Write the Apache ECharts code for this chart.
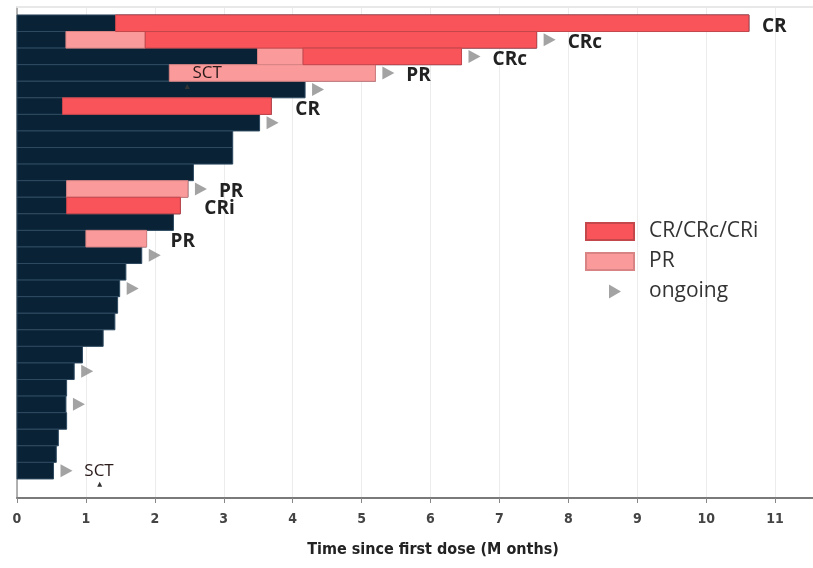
<!DOCTYPE html>
<html>
<head>
<meta charset="utf-8">
<script src="https://cdn.jsdelivr.net/npm/echarts@6/dist/echarts.min.js"></script>
<style>
  html, body { margin: 0; padding: 0; background: #fff; }
  #chart { width: 813px; height: 568px; }
</style>
</head>
<body>
<div id="chart"></div>
<script>
/* -------------------------------------------------------------------------- */
/*                       Swimmer plot - time on treatment                     */
/* -------------------------------------------------------------------------- */

// one value per patient, top row first (months)
const totalMonths = [10.62, 7.54, 6.45, 5.20, 4.18, 3.69, 3.52, 3.13, 3.13, 2.56, 2.48, 2.37, 2.27, 1.88,
  1.81, 1.58, 1.49, 1.46, 1.42, 1.25, 0.95, 0.83, 0.72, 0.71, 0.72, 0.60, 0.57, 0.53];

// [row, start, end]
const crSegments = [[0, 1.43, 10.62], [1, 1.86, 7.54], [2, 4.15, 6.45], [5, 0.66, 3.69], [11, 0.72, 2.37]];
const prSegments = [[1, 0.71, 1.86], [2, 3.49, 4.15], [3, 2.21, 5.20], [10, 0.72, 2.48], [13, 1.00, 1.88]];

const ongoingRows = [1, 2, 3, 4, 6, 10, 14, 16, 21, 23, 27];

// [row, text]
const responseLabels = [[0, 'CR'], [1, 'CRc'], [2, 'CRc'], [3, 'PR'], [5, 'CR'], [10, 'PR'], [11, 'CRi'], [13, 'PR']];

// [row, time of SCT, where the text sits]
const sctEvents = [[3, 2.47, 2.76], [27, 1.20, 1.19]];

const xTicks = [0, 1, 2, 3, 4, 5, 6, 7, 8, 9, 10, 11];

const NARROW = "'Liberation Sans Narrow', 'DejaVu Sans Condensed', sans-serif";

const segmentItem = (params, api) => {
  const row = api.value(0);
  const a = api.coord([api.value(1), row]);
  const b = api.coord([api.value(2), row]);
  const h = api.size([0, 1])[1];
  return {
    type: 'rect',
    shape: { x: a[0], y: a[1] - h / 2, width: b[0] - a[0], height: h },
    style: api.style()
  };
};

const chart = echarts.init(document.getElementById('chart'));

chart.setOption({
  animation: false,
  grid: { left: 17, right: 0, top: 7, bottom: 70 },
  legend: {
    orient: 'vertical',
    left: 580,
    top: 216,
    itemWidth: 48,
    itemHeight: 17,
    itemGap: 9,
    selectedMode: false,
    textStyle: { fontSize: 21, color: '#333', fontFamily: 'Open Sans', padding: [0, 0, 0, 10] },
    data: [
      { name: 'CR/CRc/CRi', icon: 'rect' },
      { name: 'PR', icon: 'rect' },
      { name: 'ongoing', icon: 'path://M0,0M48,17M23,1.5L35,8.5L23,15.5Z' }
    ]
  },
  xAxis: [
    {
      type: 'value',
      min: 0,
      max: 11.55,
      interval: 1,
      position: 'bottom',
      axisLine: { onZero: false, lineStyle: { color: '#7a7a7a', width: 2 } },
      axisTick: { show: true, length: 5, lineStyle: { color: '#888' } },
      splitLine: { show: true, lineStyle: { color: '#ececec', width: 1 } },
      axisLabel: {
        showMaxLabel: false,
        margin: 14,
        fontSize: 14,
        fontWeight: 'bold',
        color: '#444',
        fontFamily: NARROW,
        formatter: v => (xTicks.includes(v) ? String(v) : '')
      },
      name: 'Time since first dose (M onths)',
      nameLocation: 'middle',
      nameGap: 44,
      nameTextStyle: { fontSize: 16, fontWeight: 'bold', color: '#222', fontFamily: NARROW, padding: [0, 0, 0, 36] }
    },
    {
      type: 'value',
      min: 0,
      max: 11.55,
      position: 'top',
      axisLine: { onZero: false, lineStyle: { color: '#e8e8e8', width: 2 } },
      axisTick: { show: false },
      axisLabel: { show: false },
      splitLine: { show: false }
    }
  ],
  yAxis: {
    type: 'value',
    inverse: true,
    min: -0.98,
    max: 28.65,
    axisLine: { show: true, onZero: true, lineStyle: { color: '#999', width: 1.5 } },
    axisTick: { show: false },
    axisLabel: { show: false },
    splitLine: { show: false }
  },
  series: [
    {
      type: 'custom',
      name: 'treatment',
      renderItem: segmentItem,
      itemStyle: { color: '#0a2236', borderColor: '#2e4a60', borderWidth: 1 },
      encode: { x: [1, 2], y: 0 },
      data: totalMonths.map((t, i) => [i, 0, t])
    },
    {
      type: 'custom',
      name: 'PR',
      renderItem: segmentItem,
      itemStyle: { color: '#fb9a9a', borderColor: '#d98484', borderWidth: 1 },
      encode: { x: [1, 2], y: 0 },
      data: prSegments
    },
    {
      type: 'custom',
      name: 'CR/CRc/CRi',
      renderItem: segmentItem,
      itemStyle: { color: '#f8545a', borderColor: '#c4474c', borderWidth: 1 },
      encode: { x: [1, 2], y: 0 },
      data: crSegments
    },
    {
      type: 'scatter',
      name: 'ongoing',
      symbol: 'path://M0,0L12,6.5L0,13Z',
      symbolSize: [12, 13],
      symbolOffset: [13, 0],
      itemStyle: { color: '#8c8c8c' },
      data: ongoingRows.map(r => [totalMonths[r], r])
    },
    {
      type: 'custom',
      name: 'response',
      encode: { x: 1, y: 0 },
      data: responseLabels.map(d => [d[0], totalMonths[d[0]]]),
      renderItem: (params, api) => {
        const row = api.value(0);
        const p = api.coord([api.value(1), row]);
        const gap = ongoingRows.includes(row) ? 31 : 24;
        // keep the label inside the plot on the longest bar
        const right = params.coordSys.x + params.coordSys.width - 51;
        return {
          type: 'text',
          x: Math.min(p[0] + gap, right),
          y: p[1] + 3,
          style: {
            text: responseLabels[params.dataIndex][1],
            fill: '#222',
            font: "bold 19px 'Open Sans'",
            verticalAlign: 'middle',
            align: 'left'
          }
        };
      }
    },
    {
      type: 'custom',
      name: 'sct',
      encode: { x: [1, 2], y: 0 },
      data: sctEvents,
      renderItem: (params, api) => {
        const row = api.value(0);
        const tri = api.coord([api.value(1), row]);
        const txt = api.coord([api.value(2), row]);
        return {
          type: 'group',
          children: [
            {
              type: 'polygon',
              shape: { points: [[tri[0] - 2.5, tri[1] + 16], [tri[0] + 2.5, tri[1] + 16], [tri[0], tri[1] + 11]] },
              style: { fill: '#333' }
            },
            {
              type: 'text',
              x: txt[0],
              y: txt[1],
              style: {
                text: 'SCT',
                fill: '#2a1a1a',
                font: "17px 'Open Sans'",
                verticalAlign: 'middle',
                align: 'center'
              }
            }
          ]
        };
      }
    }
  ]
});
</script>
</body>
</html>
